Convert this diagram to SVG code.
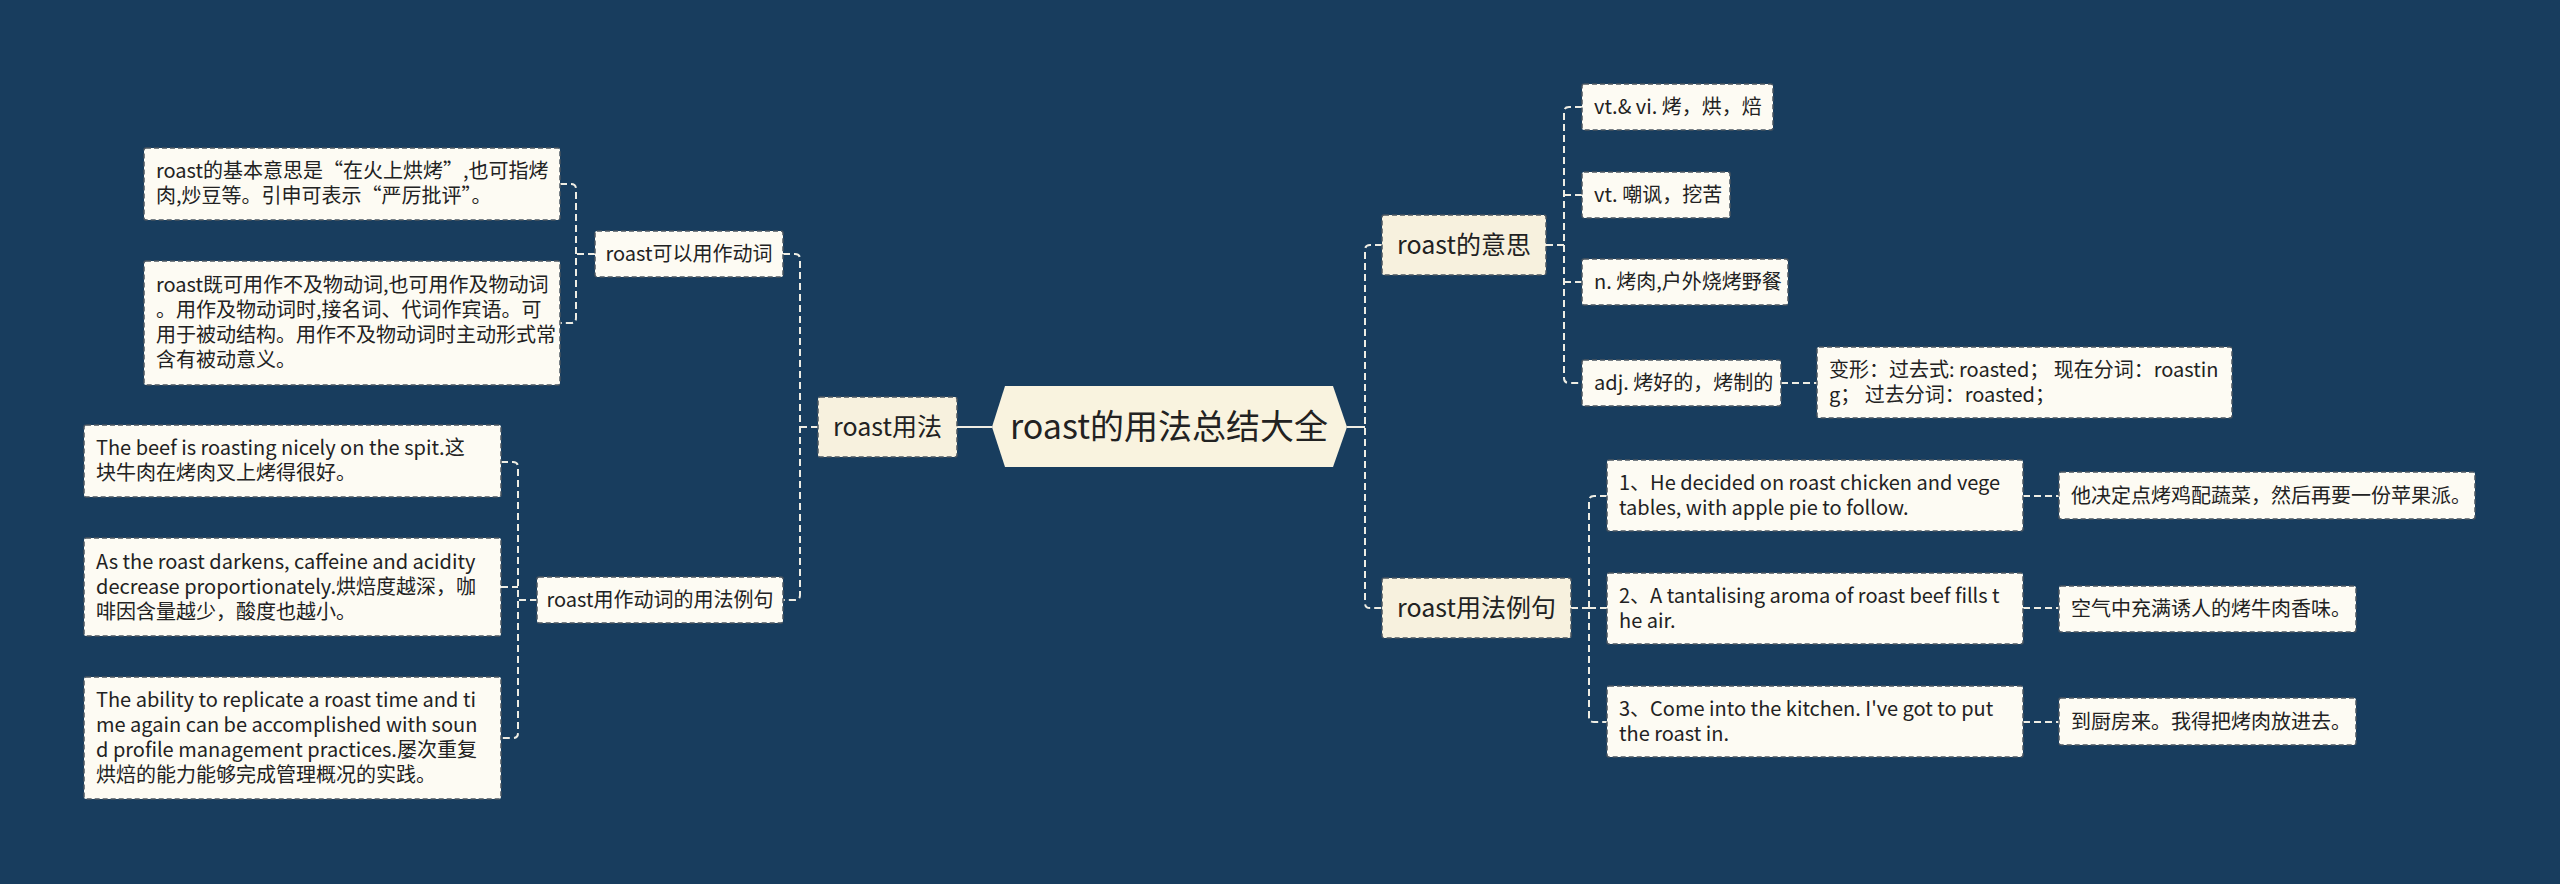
<svg xmlns="http://www.w3.org/2000/svg" width="2560" height="884" viewBox="0 0 2560 884">
<style>
text{font-family:"Noto Sans CJK SC","Open Sans",sans-serif;fill:#222;}
.leaf rect{fill:#fdfbf3;stroke:#4a5560;stroke-width:1.5;stroke-dasharray:5 3;}
.mid rect{fill:#fdfbf3;stroke:#4a5560;stroke-width:1.5;stroke-dasharray:5 3;}
.main rect{fill:#f7f1de;stroke:#4a5560;stroke-width:1.5;stroke-dasharray:5 3;}
.leaf text{font-size:20px;}
.mid text{font-size:20px;text-anchor:middle;}
.main text{font-size:25px;text-anchor:middle;}
.conn path{fill:none;stroke:#eeede4;stroke-width:2;stroke-dasharray:7 4;}
.conn path.solid{stroke-dasharray:none;}
</style>
<rect x="0" y="0" width="2560" height="884" fill="#183d5e"/>
<g id="connectors" class="conn">
<path class="solid" d="M957 427 H992"/>
<path class="solid" d="M1347 427 H1365"/>
<path d="M818 427 H800"/>
<path d="M783 254 H795 Q800 254 800 259 V595 Q800 600 795 600 H783"/>
<path d="M595 254 H576"/>
<path d="M560 184 H571 Q576 184 576 189 V318 Q576 323 571 323 H560"/>
<path d="M537 600 H518"/>
<path d="M501 462 H513 Q518 462 518 467 V733 Q518 738 513 738 H501"/>
<path d="M501 587 H518"/>
<path d="M1382 245 H1370 Q1365 245 1365 250 V603 Q1365 608 1370 608 H1382"/>
<path d="M1546 245 H1564"/>
<path d="M1582 107 H1569 Q1564 107 1564 112 V378 Q1564 383 1569 383 H1582"/>
<path d="M1564 195 H1582"/>
<path d="M1564 282 H1582"/>
<path d="M1781 383 H1817"/>
<path d="M1571 608 H1589"/>
<path d="M1607 496 H1594 Q1589 496 1589 501 V717 Q1589 722 1594 722 H1607"/>
<path d="M1589 608 H1607"/>
<path d="M2023 496 H2059"/>
<path d="M2023 608 H2059"/>
<path d="M2023 722 H2059"/>
</g>
<g id="center">
<polygon points="992,427 1005,386 1333,386 1347,427 1333,467 1005,467" fill="#f9f3df"/>
<text x="1169" y="439" style="font-size:34px;text-anchor:middle;">roast的用法总结大全</text>
</g>
<g id="n-usage" class="main">
<rect x="818" y="397" width="139" height="60" rx="2"/>
<text x="887.5" y="436">roast用法</text>
</g>
<g id="n-verb" class="mid">
<rect x="595" y="231" width="188" height="46" rx="2"/>
<text x="689" y="261">roast可以用作动词</text>
</g>
<g id="n-verb-ex" class="mid">
<rect x="537" y="577" width="246" height="46" rx="2"/>
<text x="660" y="607">roast用作动词的用法例句</text>
</g>
<g id="l-verb1" class="leaf">
<rect x="144" y="148" width="416" height="72" rx="2"/>
<text x="156" y="178">roast的基本意思是“在火上烘烤”,也可指烤</text>
<text x="156" y="203">肉,炒豆等。引申可表示“严厉批评”。</text>
</g>
<g id="l-verb2" class="leaf">
<rect x="144" y="261" width="416" height="124" rx="2"/>
<text x="156" y="292">roast既可用作不及物动词,也可用作及物动词</text>
<text x="156" y="317">。用作及物动词时,接名词、代词作宾语。可</text>
<text x="156" y="342">用于被动结构。用作不及物动词时主动形式常</text>
<text x="156" y="367">含有被动意义。</text>
</g>
<g id="l-ex1" class="leaf">
<rect x="84" y="425" width="417" height="72" rx="2"/>
<text x="96" y="455">The beef is roasting nicely on the spit.这</text>
<text x="96" y="480">块牛肉在烤肉叉上烤得很好。</text>
</g>
<g id="l-ex2" class="leaf">
<rect x="84" y="538" width="417" height="98" rx="2"/>
<text x="96" y="569">As the roast darkens, caffeine and acidity</text>
<text x="96" y="594">decrease proportionately.烘焙度越深，咖</text>
<text x="96" y="619">啡因含量越少，酸度也越小。</text>
</g>
<g id="l-ex3" class="leaf">
<rect x="84" y="677" width="417" height="122" rx="2"/>
<text x="96" y="707">The ability to replicate a roast time and ti</text>
<text x="96" y="732">me again can be accomplished with soun</text>
<text x="96" y="757">d profile management practices.屡次重复</text>
<text x="96" y="782">烘焙的能力能够完成管理概况的实践。</text>
</g>
<g id="n-meaning" class="main">
<rect x="1382" y="215" width="164" height="60" rx="2"/>
<text x="1464" y="254">roast的意思</text>
</g>
<g id="n-examples" class="main">
<rect x="1382" y="578" width="189" height="60" rx="2"/>
<text x="1476.5" y="617">roast用法例句</text>
</g>
<g id="m1" class="leaf">
<rect x="1582" y="84" width="191" height="46" rx="2"/>
<text x="1594" y="114">vt.&amp; vi. 烤，烘，焙</text>
</g>
<g id="m2" class="leaf">
<rect x="1582" y="172" width="148" height="46" rx="2"/>
<text x="1594" y="202">vt. 嘲讽，挖苦</text>
</g>
<g id="m3" class="leaf">
<rect x="1582" y="259" width="206" height="46" rx="2"/>
<text x="1594" y="289">n. 烤肉,户外烧烤野餐</text>
</g>
<g id="m4" class="leaf">
<rect x="1582" y="360" width="199" height="46" rx="2"/>
<text x="1594" y="390">adj. 烤好的，烤制的</text>
</g>
<g id="m4a" class="leaf">
<rect x="1817" y="347" width="415" height="71" rx="2"/>
<text x="1829" y="377">变形：过去式: roasted； 现在分词：roastin</text>
<text x="1829" y="402">g； 过去分词：roasted；</text>
</g>
<g id="s1" class="leaf">
<rect x="1607" y="460" width="416" height="71" rx="2"/>
<text x="1619" y="490">1、He decided on roast chicken and vege</text>
<text x="1619" y="515">tables, with apple pie to follow.</text>
</g>
<g id="s2" class="leaf">
<rect x="1607" y="573" width="416" height="71" rx="2"/>
<text x="1619" y="603">2、A tantalising aroma of roast beef fills t</text>
<text x="1619" y="628">he air.</text>
</g>
<g id="s3" class="leaf">
<rect x="1607" y="686" width="416" height="71" rx="2"/>
<text x="1619" y="716">3、Come into the kitchen. I've got to put</text>
<text x="1619" y="741">the roast in.</text>
</g>
<g id="t1" class="leaf">
<rect x="2059" y="472" width="416" height="47" rx="2"/>
<text x="2071" y="503">他决定点烤鸡配蔬菜，然后再要一份苹果派。</text>
</g>
<g id="t2" class="leaf">
<rect x="2059" y="586" width="297" height="46" rx="2"/>
<text x="2071" y="616">空气中充满诱人的烤牛肉香味。</text>
</g>
<g id="t3" class="leaf">
<rect x="2059" y="698" width="297" height="47" rx="2"/>
<text x="2071" y="729">到厨房来。我得把烤肉放进去。</text>
</g>
</svg>
